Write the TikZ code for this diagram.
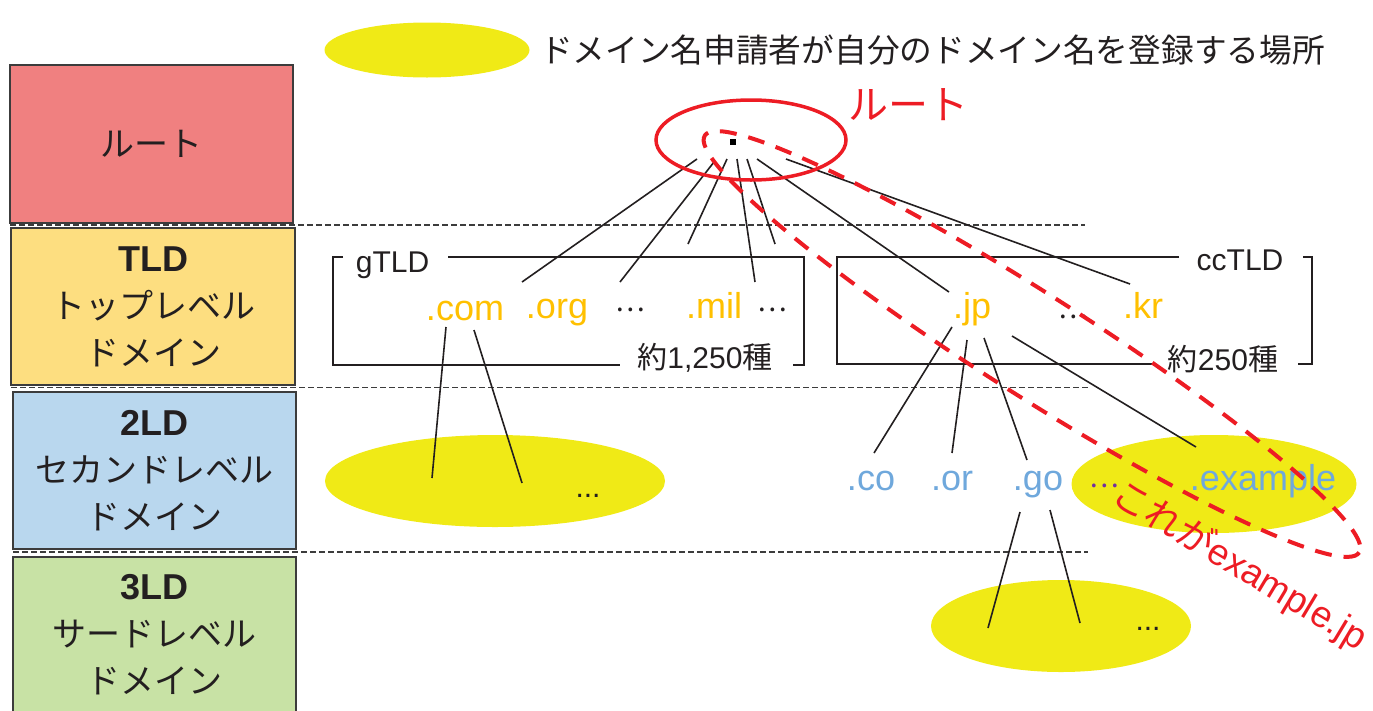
\documentclass[tikz,border=0pt]{standalone}
\usepackage{fontspec}
\setmainfont{Liberation Sans}
\newfontfamily\jp{Noto Sans CJK JP}
\newfontfamily\lat{Liberation Sans}
\newcommand\lvtitle[1]{{\lat\bfseries\fontsize{36}{47}\selectfont #1}}
\usetikzlibrary{shapes.geometric}
\definecolor{rootfill}{RGB}{240,128,128}
\definecolor{tldfill}{RGB}{253,222,128}
\definecolor{sldfill}{RGB}{185,215,238}
\definecolor{thirdfill}{RGB}{200,226,165}
\definecolor{boxline}{RGB}{60,60,60}
\definecolor{yellowc}{RGB}{240,234,22}
\definecolor{orangec}{RGB}{255,192,0}
\definecolor{bluec}{RGB}{111,168,220}
\definecolor{purplec}{RGB}{112,48,160}
\definecolor{redc}{RGB}{237,28,36}
\definecolor{inkc}{RGB}{35,31,32}
\begin{document}
\begin{tikzpicture}[x=1pt,y=-1pt,
  every node/.style={inner sep=0pt, outer sep=0pt},
  levelbox/.style={rectangle, draw=boxline, line width=1.3pt, align=center, text=inkc,
    font=\jp\fontsize{34}{47}\selectfont},
  sepline/.style={draw=boxline, line width=1.2pt, dash pattern=on 6pt off 3pt},
  conn/.style={draw=inkc, line width=1.6pt},
  brk/.style={draw=inkc, line width=2.8pt},
  yell/.style={ellipse, fill=yellowc},
  tldlab/.style={text=orangec, anchor=base, font=\fontsize{36}{36}\selectfont},
  sldlab/.style={text=bluec, anchor=base, font=\fontsize{36}{36}\selectfont},
  brklab/.style={text=inkc, anchor=base, font=\fontsize{30}{30}\selectfont},
  jdots/.style={text=inkc, anchor=base, font=\jp\fontsize{28}{28}\selectfont},
  ldots/.style={text=inkc, anchor=base, font=\fontsize{30}{30}\selectfont},
  redloop/.style={draw=redc, line width=4pt, dash pattern=on 17pt off 12pt}
]
\clip (0,0) rectangle (1373,710);
\useasboundingbox (0,0) rectangle (1373,710);

% level boxes
\node[levelbox, fill=rootfill, minimum width=283pt, minimum height=158pt] (rootbox) at (151.5,144) {ルート};
\node[levelbox, fill=tldfill, minimum width=284pt, minimum height=157pt] (tldbox) at (153,306.5)
  {\lvtitle{TLD}\\トップレベル\\ドメイン};
\node[levelbox, fill=sldfill, minimum width=283pt, minimum height=157pt] (sldbox) at (154.5,470.5)
  {\lvtitle{2LD}\\セカンドレベル\\ドメイン};
\node[levelbox, fill=thirdfill, minimum width=283pt, minimum height=156pt] (thirdbox) at (154.5,635)
  {\lvtitle{3LD}\\サードレベル\\ドメイン};

% separators
\coordinate (s1a) at (10,225);   \coordinate (s1b) at (1085,225);
\coordinate (s2a) at (11,387.5); \coordinate (s2b) at (1090,387.5);
\coordinate (s3a) at (13,552);   \coordinate (s3b) at (1088,552);
\draw[sepline] (s1a) -- (s1b);
\draw[sepline] (s2a) -- (s2b);
\draw[sepline] (s3a) -- (s3b);

% legend
\node[yell, minimum width=205pt, minimum height=55pt] (legend) at (427,50) {};
\node[anchor=west, text=inkc, font=\jp\fontsize{32.7}{33}\selectfont] (legendtext) at (540,50)
  {ドメイン名申請者が自分のドメイン名を登録する場所};

% yellow ellipses
\node[yell, minimum width=340pt, minimum height=92pt] (comell) at (495,481) {};
\node[yell, minimum width=285pt, minimum height=98pt] (exell) at (1214,484) {};
\node[yell, minimum width=260pt, minimum height=92pt] (goell) at (1061,626) {};

% root
\node[fill=black, minimum size=6pt] (dot) at (733,142) {};
\node[text=redc, font=\jp\fontsize{40}{40}\selectfont] (rootlabel) at (908,105) {ルート};

% brackets
\draw[brk] (343,257) -- (333,257) -- (333,365) -- (620,365);
\draw[brk] (448,257) -- (804,257) -- (804,365) -- (793,365);
\draw[brk] (1179,257) -- (837,257) -- (837,364) -- (1152,364);
\draw[brk] (1303,257) -- (1312,257) -- (1312,364) -- (1298,364);
\node[brklab] (gtld) at (392.5,272) {gTLD};
\node[brklab] (cctld) at (1240,270) {ccTLD};
\node[brklab] (gcount) at (705,368) {{\jp 約}1,250{\jp 種}};
\node[brklab] (cccount) at (1223,370) {{\jp 約}250{\jp 種}};

% TLD labels
\node[tldlab] (com) at (465,320) {.com};
\node[tldlab] (org) at (557,318) {.org};
\node[jdots] (gdots1) at (630,311) {…};
\node[tldlab] (mil) at (714,318) {.mil};
\node[jdots] (gdots2) at (772,311) {…};
\node[tldlab] (jp) at (972,318) {.jp};
\node[jdots] (ccdots) at (1073,318) {…};
\node[tldlab] (kr) at (1143,318) {.kr};

% 2LD labels
\node[sldlab] (co) at (871,490) {.co};
\node[sldlab] (or) at (952,490) {.or};
\node[sldlab] (go) at (1038,490) {.go};
\node[jdots, text=purplec] (exdots) at (1104,487) {…};
\node[sldlab] (example) at (1263,490) {.example};
\node[ldots] (comdots) at (588,497) {...};
\node[ldots] (godots) at (1148,630) {...};

% connectors from the root
\coordinate (rA) at (697,159); \coordinate (tA) at (522,282);
\coordinate (rB) at (714,162); \coordinate (tB) at (620,282);
\coordinate (rC) at (727,159); \coordinate (tC) at (688,244);
\coordinate (rD) at (737,159); \coordinate (tD) at (755,282);
\coordinate (rE) at (747,159); \coordinate (tE) at (775,244);
\coordinate (rF) at (757,159); \coordinate (tF) at (949,292);
\coordinate (rG) at (786,159); \coordinate (tG) at (1130,284);
\foreach \n in {A,B,C,D,E,F,G} \draw[conn] (r\n) -- (t\n);

% .com children
\coordinate (cA) at (446,327); \coordinate (dA) at (432,478);
\coordinate (cB) at (474,330); \coordinate (dB) at (522,483);
\draw[conn] (cA) -- (dA);
\draw[conn] (cB) -- (dB);

% .jp children
\coordinate (jA) at (952,327); \coordinate (kA) at (874,453);
\coordinate (jB) at (967,340); \coordinate (kB) at (952,453);
\coordinate (jC) at (984,338); \coordinate (kC) at (1027,460);
\coordinate (jD) at (1012,336); \coordinate (kD) at (1196,447);
\foreach \n in {A,B,C,D} \draw[conn] (j\n) -- (k\n);

% .go children
\coordinate (gA) at (1020,512); \coordinate (hA) at (988,628);
\coordinate (gB) at (1050,510); \coordinate (hB) at (1080,623);
\draw[conn] (gA) -- (hA);
\draw[conn] (gB) -- (hB);

% red marks
\draw[redc, line width=3.5pt] (751,140) ellipse [x radius=95, y radius=40];
\draw[redloop, rotate around={-32.5:(1032,344)}] (1032,344) ellipse [x radius=388, y radius=51];
\node[text=redc, rotate=-31, font=\fontsize{37}{37}\selectfont] (thisis) at (1240,566)
  {{\jp これが}example.jp};
\end{tikzpicture}
\end{document}
